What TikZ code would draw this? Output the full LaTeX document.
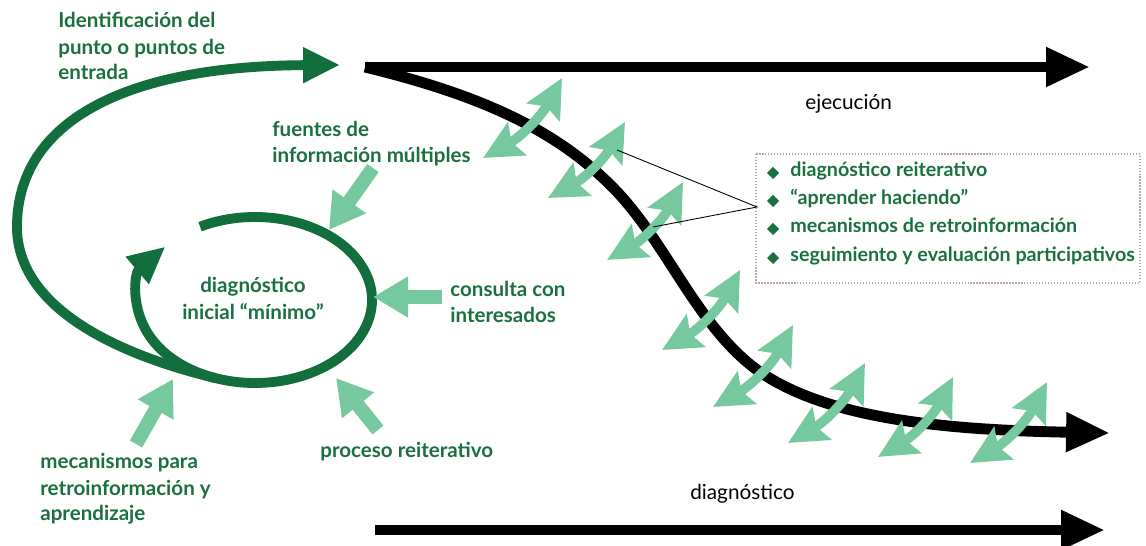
\documentclass[tikz,border=0pt]{standalone}
\usepackage{fontspec}
\setmainfont{Lato}
\usetikzlibrary{arrows.meta,shapes.geometric}
\definecolor{dkgreen}{RGB}{18,110,60}
\definecolor{txtgreen}{RGB}{26,112,62}
\definecolor{ltgreen}{RGB}{118,200,158}
\definecolor{boxedge}{RGB}{190,165,165}
\definecolor{thin}{RGB}{95,90,90}
\tikzset{
  blk/.style={line width=6.2pt, black, -{Triangle[length=25pt,width=21pt]}},
  grloop/.style={line width=5.6pt, dkgreen, -{Triangle[length=21pt,width=19pt]}},
  inarrow/.style={line width=8pt, ltgreen, -{Triangle[length=20pt,width=22pt]}},
  dbl/.style={line width=5.5pt, ltgreen, {Stealth[length=22pt,width=21pt,inset=3.5pt]}-{Stealth[length=22pt,width=21pt,inset=3.5pt]}},
  lbl/.style={text=txtgreen, font=\fontsize{11.7}{14}\selectfont\bfseries, anchor=base west, inner sep=0pt},
  boxlbl/.style={text=txtgreen, font=\fontsize{11.2}{14}\selectfont\bfseries, anchor=base west, inner sep=0pt},
  blbl/.style={text=black, font=\fontsize{11.8}{14}\selectfont, anchor=base west, inner sep=0pt},
  bullet/.style={diamond, fill=txtgreen, inner sep=0pt, minimum size=7pt},
  conn/.style={thin, line width=0.5pt},
}
\begin{document}
\begin{tikzpicture}[x=0.02cm,y=0.02cm]
\useasboundingbox (0,0) rectangle (1146,-546);
% ---- key coordinates ----
\coordinate (start) at (365,-67);
\coordinate (topend) at (1090,-67);
\coordinate (s1) at (620,-195);
\coordinate (s2) at (760,-372);
\coordinate (send) at (1110,-433);
\coordinate (botstart) at (375,-530);
\coordinate (botend) at (1105,-530);
\coordinate (loopstart) at (215,-378);
\coordinate (loopleft) at (17,-230);
\coordinate (loopend) at (340,-65);
\coordinate (ellc) at (255,-300);

% ---- black arrows ----
\draw[blk] (start) -- (topend);
\draw[blk] (start) .. controls (480,-95) and (560,-130) .. (s1)
  .. controls (670,-250) and (700,-330) .. (s2)
  .. controls (830,-420) and (950,-430) .. (send);
\draw[blk] (botstart) -- (botend);

% ---- green loop and ellipse ----
\draw[grloop] (loopstart) .. controls (120,-355) and (20,-310) .. (loopleft)
  .. controls (15,-130) and (110,-66) .. (loopend);
\draw[grloop] ([shift={(ellc)}]118:117 and 83)
  arc[start angle=118, end angle=-220, x radius=117, y radius=83];

% ---- input arrows ----
\coordinate (fA) at (373,-168); \coordinate (fB) at (329,-230);
\coordinate (cA) at (442,-297); \coordinate (cB) at (373,-297);
\coordinate (pA) at (378,-430); \coordinate (pB) at (336,-378);
\coordinate (mA) at (136,-444); \coordinate (mB) at (173,-379);
\draw[inarrow] (fA) -- (fB);
\draw[inarrow] (cA) -- (cB);
\draw[inarrow] (pA) -- (pB);
\draw[inarrow] (mA) -- (mB);

% ---- double arrows along the curve ----
\foreach \i/\ax/\ay/\bx/\by in {1/483/-158/562/-78, 2/548/-198/625/-122, 3/607/-260/683/-182, 4/662/-350/740/-270, 5/713/-407/793/-325, 6/788/-443/865/-363, 7/878/-457/953/-377, 8/970/-463/1047/-382}{
  \coordinate (d\i a) at (\ax,\ay);
  \coordinate (d\i b) at (\bx,\by);
  \draw[dbl] (d\i a) to[bend right=16] (d\i b);
}

% ---- box and connectors ----
\coordinate (boxtip) at (757,-207);
\coordinate (c1) at (617,-150);
\coordinate (c2) at (653,-227);
\draw[conn] (c1) -- (boxtip) -- (c2);
\draw[boxedge, line width=0.7pt, densely dotted] (756,-154) rectangle (1140,-283);
\node[bullet] (b1) at (773,-173) {};
\node[bullet] (b2) at (773,-201) {};
\node[bullet] (b3) at (773,-229) {};
\node[bullet] (b4) at (773,-258) {};
\node[boxlbl] (t1) at (790,-177) {diagnóstico reiterativo};
\node[boxlbl] (t2) at (790,-205) {“aprender haciendo”};
\node[boxlbl] (t3) at (790,-233) {mecanismos de retroinformación};
\node[boxlbl] (t4) at (790,-262) {seguimiento y evaluación participativos};

% ---- labels ----
\node[lbl] (id1) at (58,-28) {Identificación del};
\node[lbl] (id2) at (58,-55) {punto o puntos de};
\node[lbl] (id3) at (58,-80) {entrada};
\node[lbl] (fu1) at (272,-137) {fuentes de};
\node[lbl] (fu2) at (272,-163) {información múltiples};
\node[lbl, anchor=base] (di1) at (253,-293) {diagnóstico};
\node[lbl, anchor=base] (di2) at (253,-320) {inicial “mínimo”};
\node[lbl] (co1) at (450,-297) {consulta con};
\node[lbl] (co2) at (450,-323) {interesados};
\node[lbl] (pr1) at (320,-458) {proceso reiterativo};
\node[lbl] (me1) at (40,-469) {mecanismos para};
\node[lbl] (me2) at (40,-496) {retroinformación y};
\node[lbl] (me3) at (40,-521) {aprendizaje};
\node[blbl] (ej) at (805,-110) {ejecución};
\node[blbl] (dg) at (690,-500) {diagnóstico};
\end{tikzpicture}
\end{document}
